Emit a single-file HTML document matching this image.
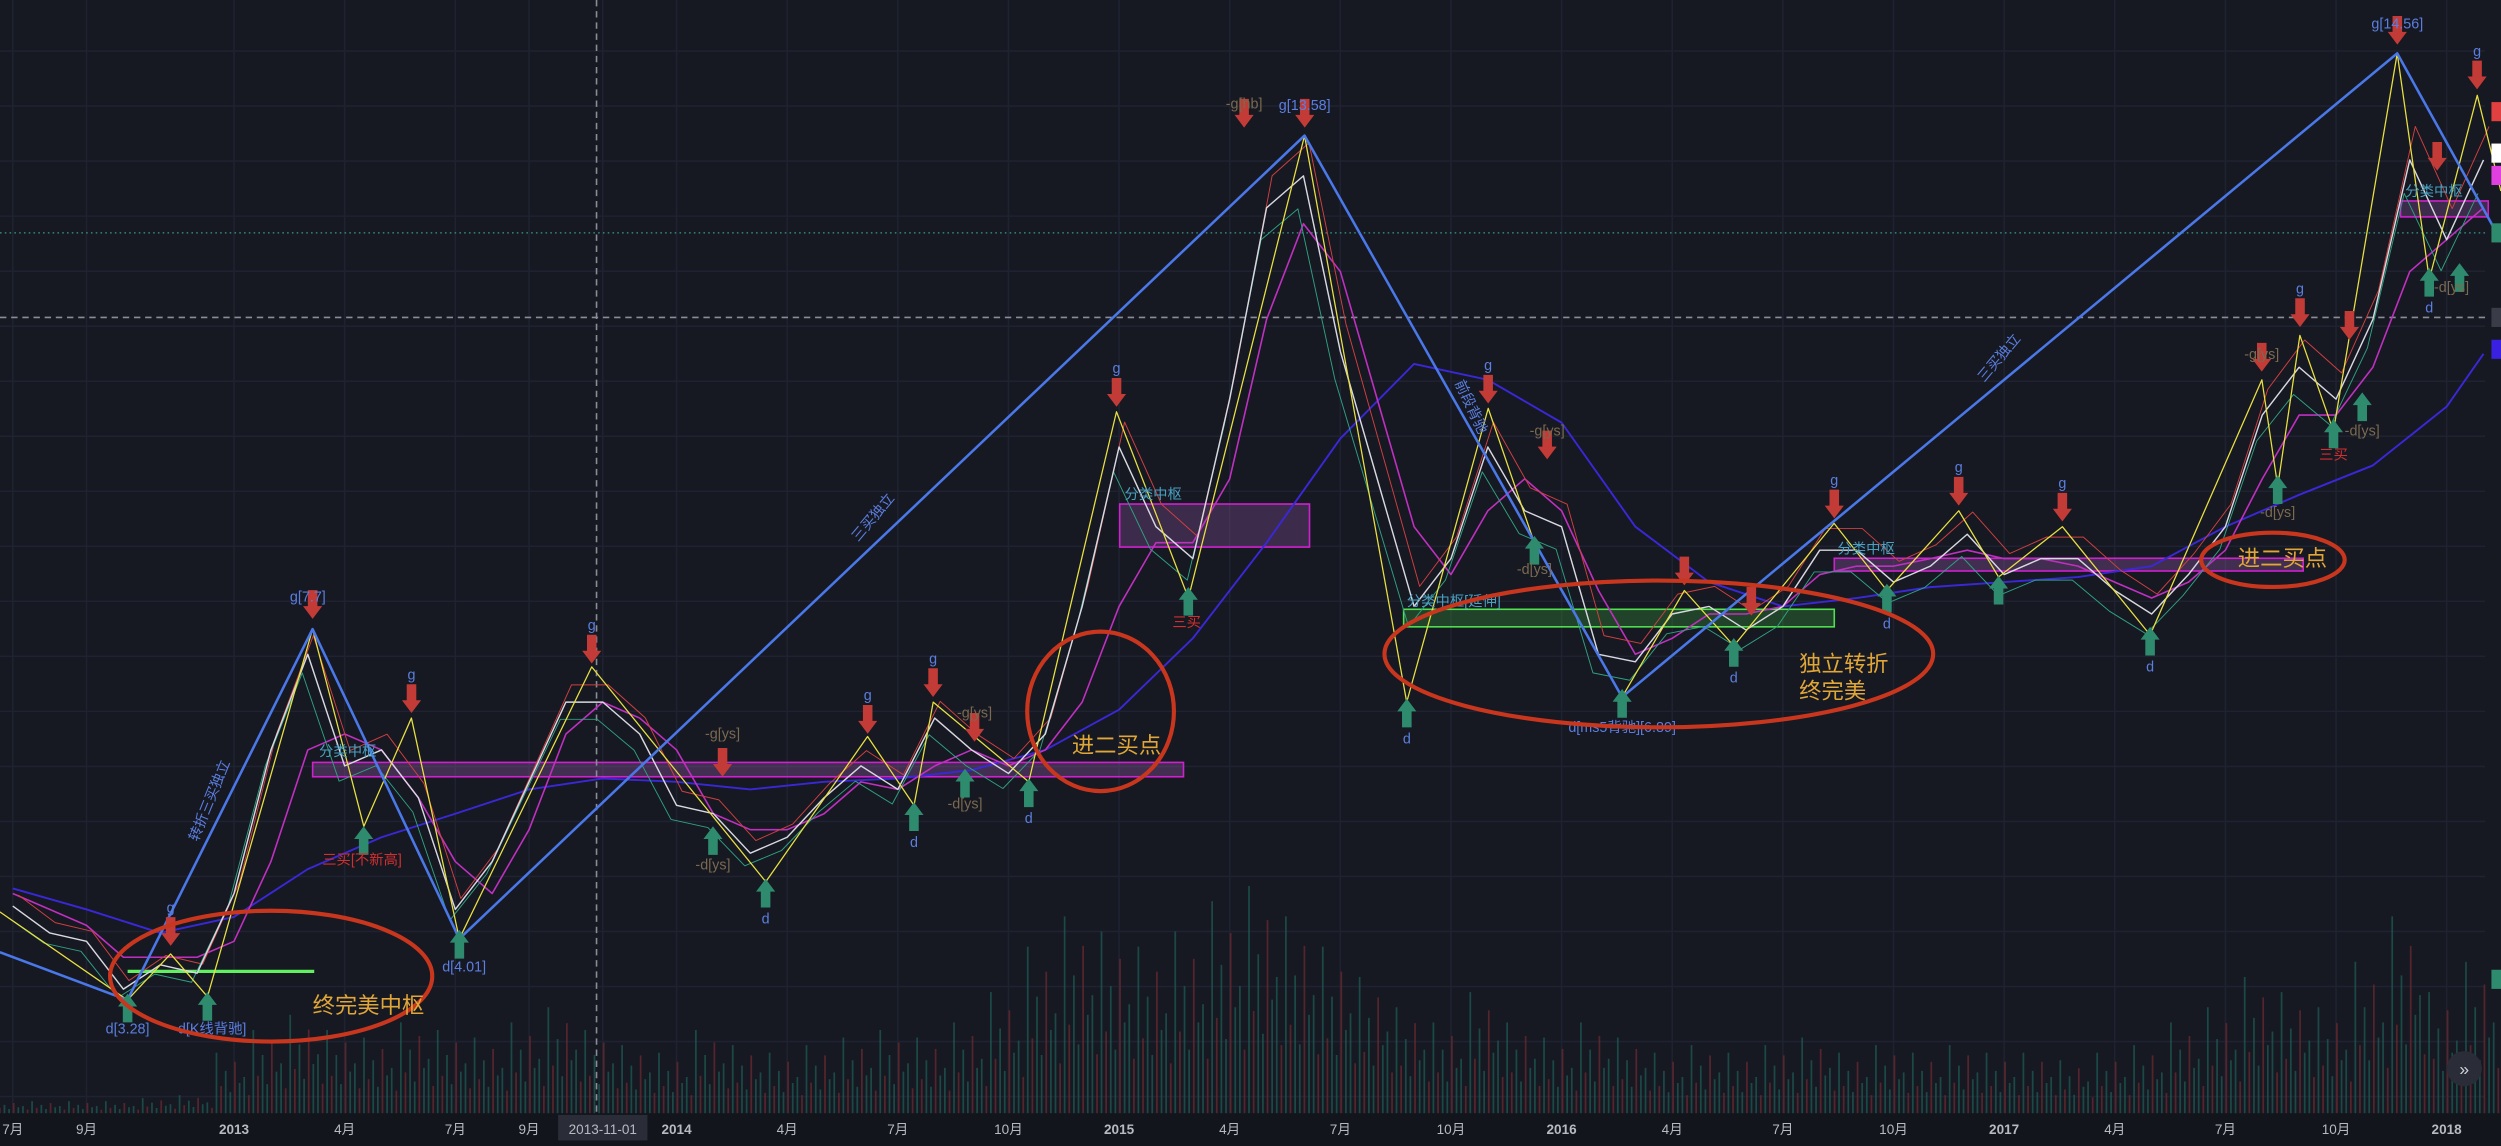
<!DOCTYPE html>
<html><head><meta charset="utf-8">
<style>
html,body{margin:0;padding:0;background:#161822;overflow:hidden}
svg{display:block;font-family:"Liberation Sans","Noto Sans CJK SC",sans-serif}
</style></head>
<body>
<svg id="chart" width="2501" height="1146" viewBox="0 0 1568 718.5" preserveAspectRatio="none" xmlns="http://www.w3.org/2000/svg">
<rect x="0" y="0" width="1568" height="718.5" fill="#161822"/>
<g id="grid"></g>
<g id="volume"></g>
<g id="zones">
  <rect x="196" y="478" width="546" height="9" fill="rgba(150,90,170,0.35)" stroke="#d020d0" stroke-width="1"/>
  <rect x="702" y="316" width="119" height="27" fill="rgba(150,90,170,0.3)" stroke="#d020d0" stroke-width="1"/>
  <rect x="1150" y="350" width="294" height="8" fill="rgba(150,90,170,0.35)" stroke="#d020d0" stroke-width="1"/>
  <rect x="880" y="382" width="270" height="11" fill="rgba(60,170,60,0.3)" stroke="#50e050" stroke-width="1"/>
  <rect x="1505" y="126" width="55" height="10" fill="rgba(150,90,170,0.3)" stroke="#d020d0" stroke-width="1"/>
  <line x1="80" y1="609" x2="197" y2="609" stroke="#60f060" stroke-width="2"/>
</g>
<line x1="0" y1="199" x2="1558" y2="199" stroke="#8a8d98" stroke-width="1" stroke-dasharray="4,3"/>
<line x1="0" y1="146" x2="1558" y2="146" stroke="#3a9a8a" stroke-width="0.8" stroke-dasharray="1,2"/>
<line x1="374" y1="0" x2="374" y2="698" stroke="#8a8d98" stroke-width="1" stroke-dasharray="4,3"/>
<g id="series"></g>
<g id="marks"></g>
<g id="labels" font-size="9">
  <text x="193" y="377" fill="#5b7fe0" text-anchor="middle">g[7.7]</text>
  <text x="80" y="648" fill="#5b7fe0" text-anchor="middle">d[3.28]</text>
  <text x="133" y="648" fill="#5b7fe0" text-anchor="middle">d[K线背驰]</text>
  <text x="291" y="609" fill="#5b7fe0" text-anchor="middle">d[4.01]</text>
  <text x="818" y="69" fill="#5b7fe0" text-anchor="middle">g[13.58]</text>
  <text x="1503" y="18" fill="#5b7fe0" text-anchor="middle">g[14.56]</text>
  <text x="1017" y="459" fill="#5b7fe0" text-anchor="middle">d[ms5背驰][6.89]</text>
  <text x="780" y="68" fill="#7a6a50" text-anchor="middle">-g[hb]</text>
  <text x="227" y="542" fill="#d03030" text-anchor="middle">三买[不新高]</text>
  <text x="744" y="393" fill="#d03030" text-anchor="middle">三买</text>
  <text x="1463" y="288" fill="#d03030" text-anchor="middle">三买</text>
  <text x="447" y="545" fill="#7a6a50" text-anchor="middle">-d[ys]</text>
  <text x="453" y="463" fill="#7a6a50" text-anchor="middle">-g[ys]</text>
  <text x="611" y="450" fill="#7a6a50" text-anchor="middle">-g[ys]</text>
  <text x="605" y="507" fill="#7a6a50" text-anchor="middle">-d[ys]</text>
  <text x="970" y="273" fill="#7a6a50" text-anchor="middle">-g[ys]</text>
  <text x="962" y="360" fill="#7a6a50" text-anchor="middle">-d[ys]</text>
  <text x="1418" y="225" fill="#7a6a50" text-anchor="middle">-g[ys]</text>
  <text x="1428" y="324" fill="#7a6a50" text-anchor="middle">-d[ys]</text>
  <text x="1481" y="273" fill="#7a6a50" text-anchor="middle">-d[ys]</text>
  <text x="1537" y="183" fill="#7a6a50" text-anchor="middle">-d[ys]</text>
  <text x="200" y="474" fill="#4aa0c0">分类中枢</text>
  <text x="705" y="313" fill="#4aa0c0">分类中枢</text>
  <text x="1152" y="347" fill="#4aa0c0">分类中枢</text>
  <text x="1508" y="123" fill="#4aa0c0">分类中枢</text>
  <text x="882" y="380" fill="#4aa0c0">分类中枢[延伸]</text>
  <text transform="translate(124,528) rotate(-68)" fill="#5b7fe0">转折三买独立</text>
  <text transform="translate(538,340) rotate(-50)" fill="#5b7fe0">三买独立</text>
  <text transform="translate(1244,240) rotate(-50)" fill="#5b7fe0">三买独立</text>
  <text transform="translate(912,240) rotate(65)" fill="#5b7fe0">前段背驰</text>
</g>
<g id="circles" fill="none" stroke="#c8361e" stroke-width="2.6">
  <ellipse cx="170" cy="612" rx="101" ry="41"/>
  <ellipse cx="690" cy="446" rx="46" ry="50"/>
  <ellipse cx="1040" cy="410" rx="172" ry="46"/>
  <ellipse cx="1425" cy="351" rx="45" ry="17"/>
</g>
<g font-size="14" fill="#e0a638">
  <text x="196" y="635">终完美中枢</text>
  <text x="672" y="472">进二买点</text>
  <text x="1128" y="421">独立转折</text>
  <text x="1128" y="438">终完美</text>
  <text x="1403" y="355">进二买点</text>
</g>
<g>
  <rect x="1562" y="64" width="6" height="12" fill="#e04040"/>
  <rect x="1562" y="90" width="6" height="12" fill="#ffffff"/>
  <rect x="1562" y="104" width="6" height="12" fill="#e040e0"/>
  <rect x="1562" y="140" width="6" height="12" fill="#2e8b6e"/>
  <rect x="1562" y="193" width="6" height="12" fill="#3a3d48"/>
  <rect x="1562" y="213" width="6" height="12" fill="#3a20e0"/>
  <rect x="1562" y="608" width="6" height="12" fill="#2e8b6e"/>
</g>
<rect x="0" y="698" width="1568" height="20.5" fill="#13151d"/>
<g id="xaxis" font-size="8.5" fill="#b8bac2"></g>
<circle cx="1545" cy="670" r="11" fill="#2a2d38"/>
<text x="1545" y="674" font-size="11" fill="#d0d2d8" text-anchor="middle">»</text>
</svg>
<script>
// ---------- data ----------
const tickMonths = [0,2,6,9,12,14,16,18,21,24,27,30,33,36,39,42,45,48,51,54,57,60,63,66];
const tickLabels = ["7月","9月","2013","4月","7月","9月","2013-11-01","2014","4月","7月","10月","2015","4月","7月","10月","2016","4月","7月","10月","2017","4月","7月","10月","2018"];
const closes = [4.40,4.08,3.98,3.41,3.70,3.60,4.55,6.26,7.40,6.07,6.26,5.69,4.36,4.93,5.88,6.83,6.83,6.45,5.60,5.50,5.03,5.22,5.69,6.07,5.79,6.64,6.26,5.98,6.45,7.97,9.87,8.92,8.54,10.44,12.72,13.10,11.01,9.49,7.97,8.54,9.87,9.11,8.92,7.40,7.31,7.88,7.97,7.69,7.97,8.64,8.64,8.26,8.45,8.83,8.35,8.54,8.54,8.16,7.88,8.35,8.92,10.25,10.82,10.44,11.39,13.29,12.34,13.29];
const maShort = [4.55,4.36,4.17,3.79,3.79,3.79,3.98,4.93,6.26,6.45,6.26,5.69,4.93,4.55,5.31,6.45,6.83,6.64,6.26,5.50,5.31,5.31,5.50,5.88,5.79,6.07,6.26,6.07,6.26,6.83,7.97,8.73,8.73,9.49,11.39,12.53,11.96,10.44,8.92,8.35,9.11,9.49,9.11,8.16,7.40,7.59,7.88,7.88,7.97,8.35,8.45,8.45,8.54,8.64,8.54,8.54,8.45,8.26,8.07,8.26,8.64,9.49,10.25,10.25,10.82,11.96,12.34,12.72];
const maLongMonths = [0,2,4,6,8,10,12,14,16,18,20,22,24,26,28,30,32,34,36,38,40,42,44,46,48,50,52,54,56,58,60,62,64,66,67];
const maLong = [4.61,4.36,4.08,4.27,4.84,5.22,5.50,5.79,5.92,5.88,5.79,5.88,5.92,6.02,6.26,6.74,7.59,8.73,9.97,10.86,10.67,10.16,8.92,8.26,7.97,8.07,8.20,8.26,8.32,8.45,8.92,9.30,9.65,10.35,10.98];
const penMonths = [-0.35,3.11,4.28,5.28,8.13,9.52,10.81,12.11,15.70,20.42,23.18,24.44,24.96,27.55,29.93,31.88,35.03,37.80,40.01,41.26,43.64,45.33,46.67,49.39,50.82,52.77,53.85,55.58,57.96,60.99,61.42,62.02,62.93,64.66,65.53,66.83,67.47];
const penPrices = [4.33,3.28,3.83,3.32,7.70,5.35,6.64,4.01,7.25,4.69,6.42,5.60,6.83,5.88,10.29,8.07,13.58,6.83,10.33,8.73,6.89,8.16,7.50,8.96,8.16,9.11,8.32,8.92,7.63,10.67,9.40,11.20,10.06,14.56,11.87,14.06,12.92];
const segMonths = [-0.35,3.11,8.13,12.11,35.03,43.64,64.66,67.47];
const segPrices = [3.85,3.28,7.70,4.01,13.58,6.89,14.56,12.33];
const volumes = [8,8,8,8,10,12,40,55,65,55,50,60,55,50,60,70,55,45,40,55,45,40,45,50,55,50,60,80,110,130,120,110,120,140,150,130,110,90,70,60,80,60,50,60,50,40,45,40,45,50,40,45,40,45,40,40,35,40,45,60,70,90,80,70,100,130,80,100];
// ---------- axes ----------
const X = m => 8 + m*23.12;
const Y = p => 627 - (p-3.28)*52.62;
const VY = v => 698 - v*0.95;
const NS = "http://www.w3.org/2000/svg";
function mk(tag, parent){const e=document.createElementNS(NS,tag);parent.appendChild(e);return e;}
// grid
const grid=document.getElementById('grid');
for(let i=0;i<tickMonths.length;i++){
  const l=mk('line',grid);
  
  
  l.setAttribute('x1',X(tickMonths[i]));l.setAttribute('x2',X(tickMonths[i]));
  l.setAttribute('y1',0);l.setAttribute('y2',698);
  l.setAttribute('stroke','#1f2230');l.setAttribute('stroke-width','1');
}
for(let y=32;y<698;y+=34.5){
  const l=mk('line',grid);
  
  
  l.setAttribute('x1',0);l.setAttribute('x2',1558);l.setAttribute('y1',y);l.setAttribute('y2',y);
  l.setAttribute('stroke','#1f2230');l.setAttribute('stroke-width','1');
}
// x labels
const xa=document.getElementById('xaxis');
for(let i=0;i<tickMonths.length;i++){
  const x=X(tickMonths[i]);
  if(tickLabels[i].length>6){
    const r=mk('rect',xa);
    
    
    r.setAttribute('x',x-28);r.setAttribute('y',699);r.setAttribute('width',56);r.setAttribute('height',16);r.setAttribute('fill','#2a2d38');
  }
  const t=mk('text',xa);
  
  
  t.setAttribute('x',x);t.setAttribute('y',711);t.setAttribute('text-anchor','middle');
  if(/^\d{4}$/.test(tickLabels[i])) t.setAttribute('font-weight','bold');
  t.textContent=tickLabels[i];
}
// volume
const vg=document.getElementById('volume');
const subF=[1,0.45,0.7,0.35,0.85,0.5,0.6,0.3];
for(let i=0;i<volumes.length;i++){
  for(let k=0;k<8;k++){
    const r=mk('rect',vg);
    
    
    const top=VY(volumes[i]*subF[k]);
    r.setAttribute('x',X(i-0.5)+k*2.9);r.setAttribute('width',1.1);
    r.setAttribute('y',top);r.setAttribute('height',698-top);
    r.setAttribute('fill',(k%3==1)?'#6a2a30':'#1d5a52');r.setAttribute('opacity','0.75');
  }
}
// series
const sg=document.getElementById('series');
function poly(ms,ps,color,w,name){
  const p=mk('polyline',sg);
  
  
  p.setAttribute('points',ms.map((m,i)=>X(m)+','+Y(ps[i])).join(' '));
  p.setAttribute('fill','none');p.setAttribute('stroke',color);p.setAttribute('stroke-width',w);
  p.setAttribute('stroke-linejoin','round');
}
const idx = closes.map((_,i)=>i);
poly(maLongMonths,maLong,'#3a28d8',1.2,'ma-long-line');
poly(maShort.map((_,i)=>i),maShort,'#c030c0',1,'ma-short-line');
poly(idx.map(i=>i+0.15),closes.map(c=>c*1.03),'#d04040',0.6,'price-high-line');
poly(idx.map(i=>i-0.15),closes.map(c=>c*0.97),'#30a080',0.6,'price-low-line');
poly(idx,closes,'#d8d8e0',0.9,'price-line');
poly(penMonths,penPrices,'#e8e040',0.8,'pen-zigzag');
poly(segMonths,segPrices,'#4a78e8',1.6,'segment-zigzag');
// arrows
const mg=document.getElementById('marks');
const redArrows=[[196,388],[107,593],[258,447],[371,416],[453,487],[544,460],[585,437],[611,465],[700,255],[780,80],[818,80],[933,253],[970,288],[1056,367],[1098,386],[1150,325],[1228,317],[1293,327],[1418,233],[1442,205],[1473,213],[1503,28],[1528,107],[1553,56]];
const greenArrows=[[80,623],[130,622],[228,518],[288,583],[447,518],[480,551],[573,503],[605,482],[645,488],[745,368],[882,438],[962,336],[1017,432],[1087,400],[1183,366],[1253,361],[1348,393],[1428,298],[1463,263],[1481,246],[1523,168],[1542,165]];
const gLabelX=[107,258,371,544,585,700,933,1150,1228,1293,1442,1553];
const dLabelX=[480,573,645,882,1087,1183,1348,1523];
redArrows.forEach(a=>{
  const p=mk('polygon',mg);
  
  
  const x=a[0],y=a[1];
  p.setAttribute('points',`${x-3},${y-18} ${x+3},${y-18} ${x+3},${y-8} ${x+6},${y-8} ${x},${y} ${x-6},${y-8} ${x-3},${y-8}`);
  p.setAttribute('fill','#c23b36');
  if(gLabelX.indexOf(x)>=0){
    const t=mk('text',mg);
    
    
    t.setAttribute('x',x);t.setAttribute('y',y-21);t.setAttribute('text-anchor','middle');
    t.setAttribute('font-size','9');t.setAttribute('fill','#5b7fe0');t.textContent='g';
  }
});
greenArrows.forEach(a=>{
  const p=mk('polygon',mg);
  
  
  const x=a[0],y=a[1];
  p.setAttribute('points',`${x-3},${y+18} ${x+3},${y+18} ${x+3},${y+8} ${x+6},${y+8} ${x},${y} ${x-6},${y+8} ${x-3},${y+8}`);
  p.setAttribute('fill','#2e8b6e');
  if(dLabelX.indexOf(x)>=0){
    const t=mk('text',mg);
    
    
    t.setAttribute('x',x);t.setAttribute('y',y+28);t.setAttribute('text-anchor','middle');
    t.setAttribute('font-size','9');t.setAttribute('fill','#5b7fe0');t.textContent='d';
  }
});
</script>
</body></html>
